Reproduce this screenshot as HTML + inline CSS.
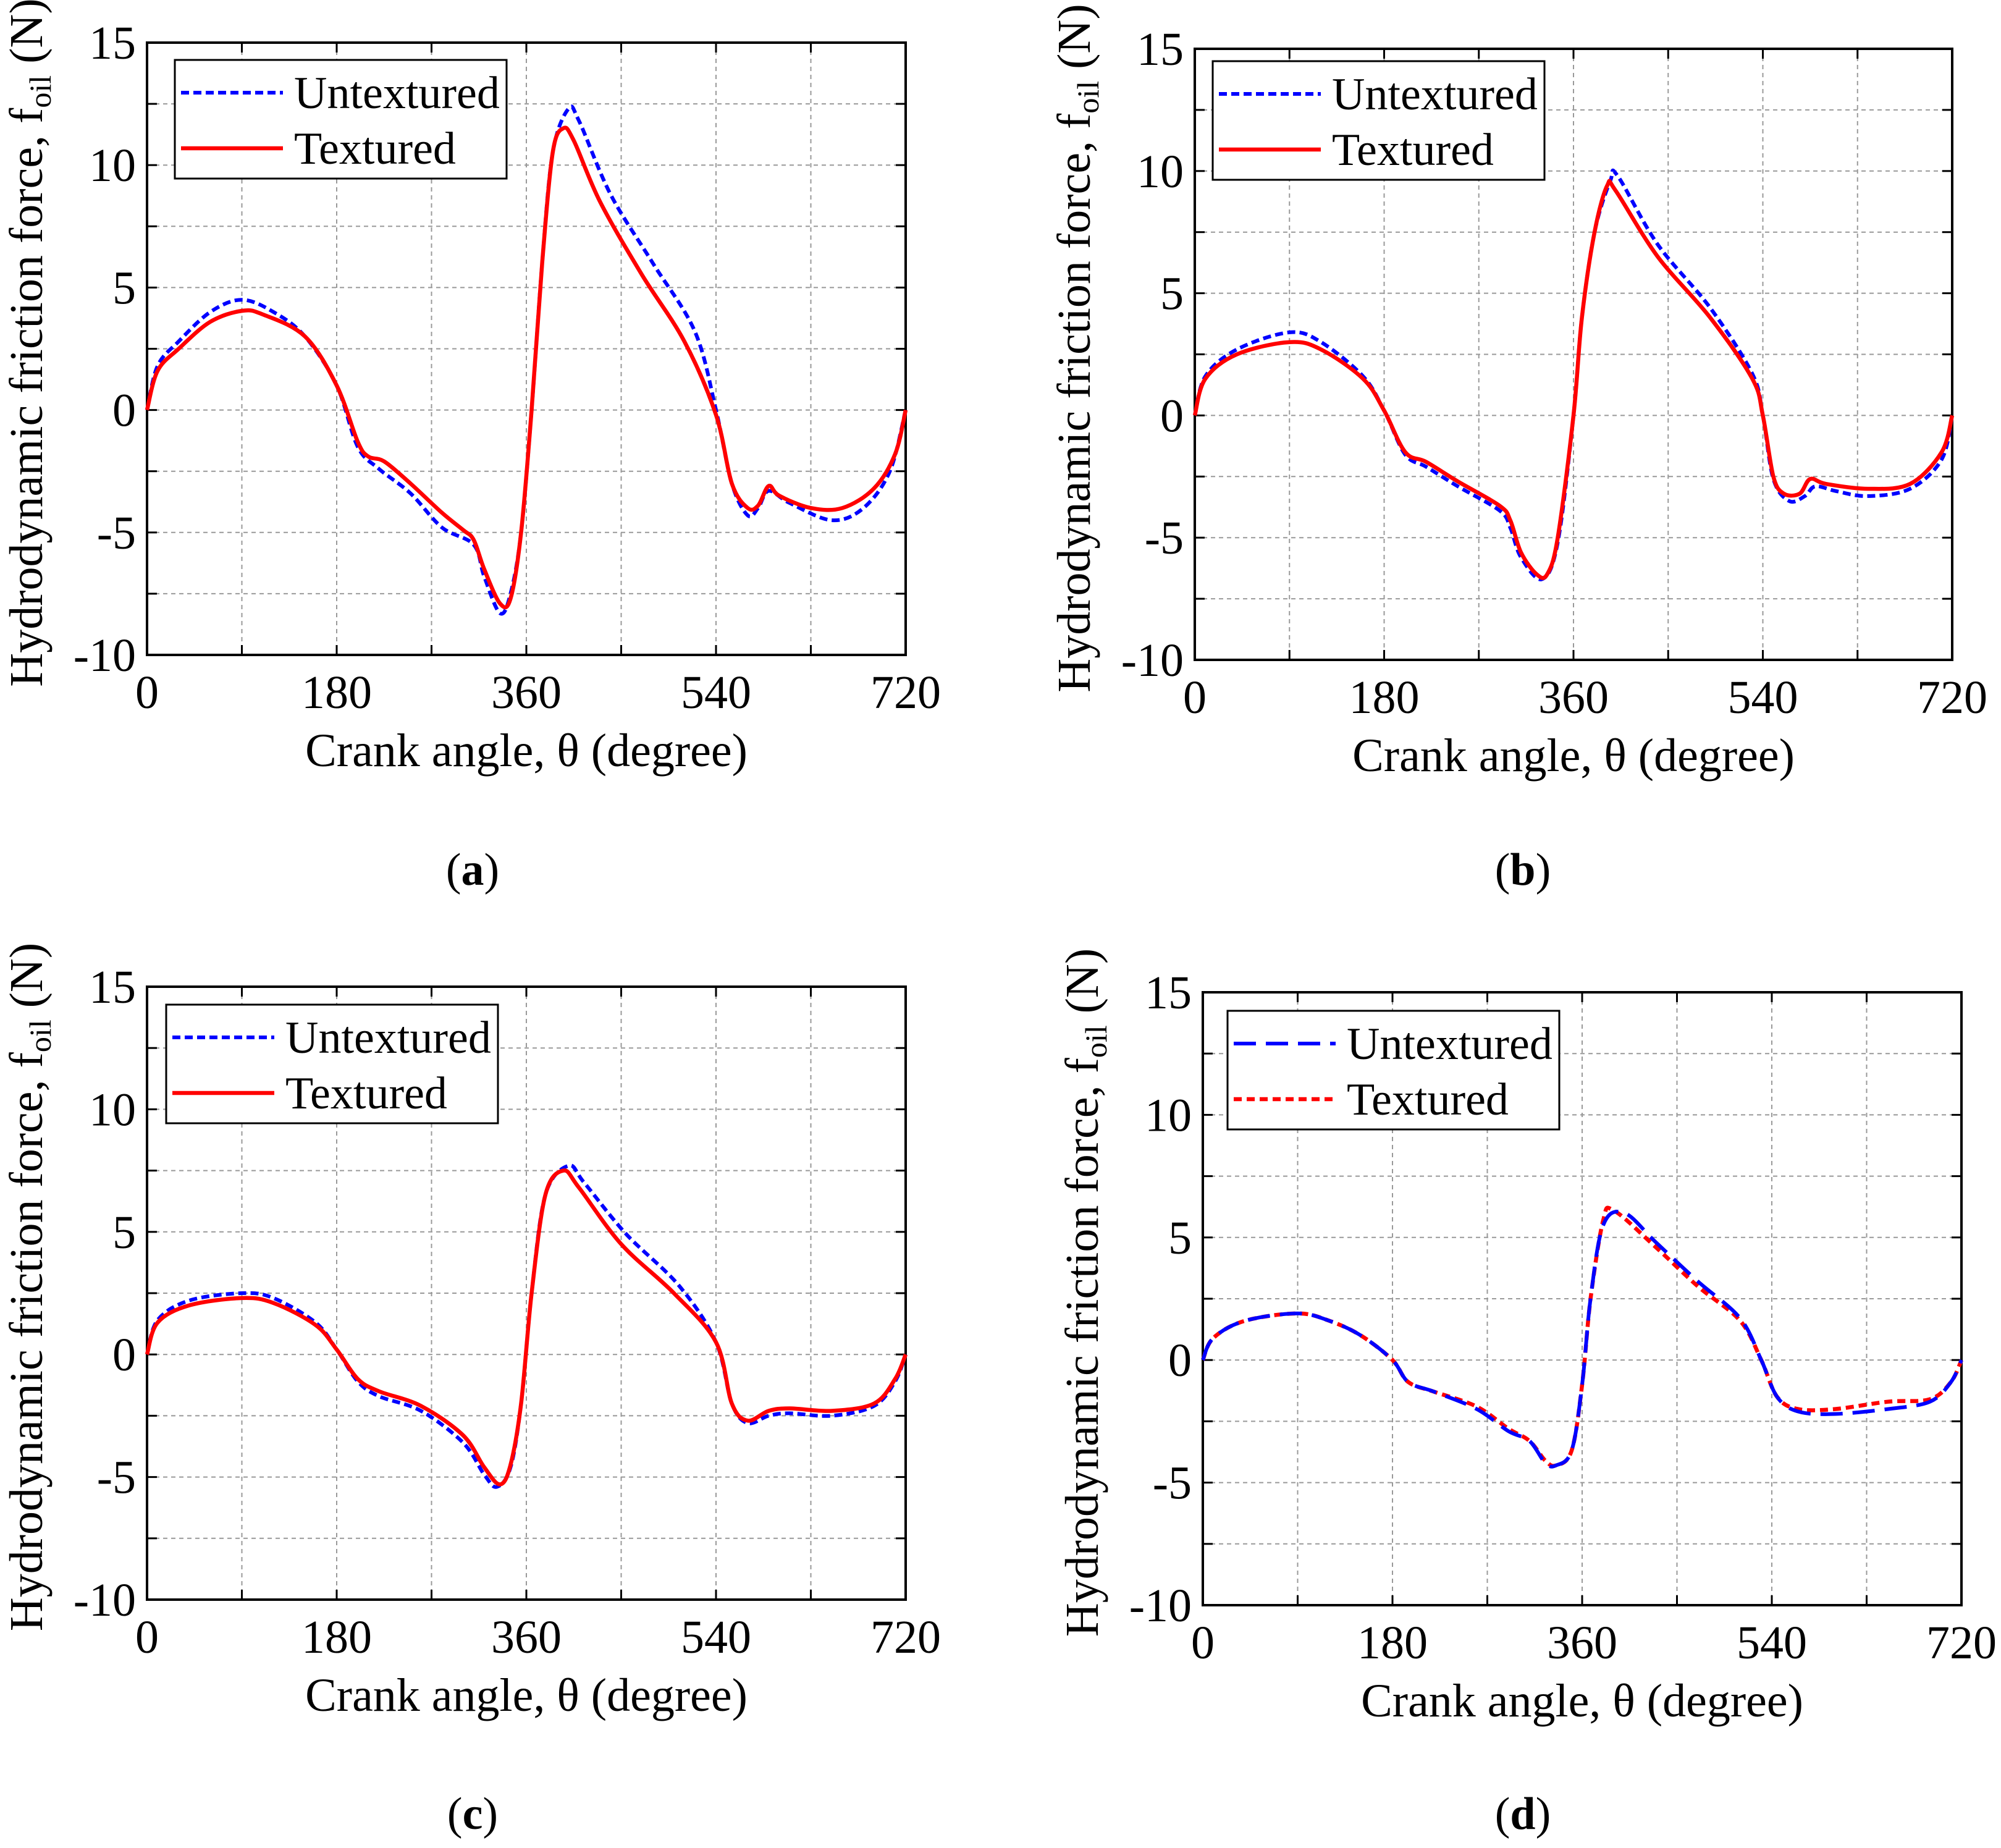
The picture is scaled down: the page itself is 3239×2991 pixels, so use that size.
<!DOCTYPE html>
<html><head><meta charset="utf-8"><style>
html,body{margin:0;padding:0;background:#fff;}
svg{display:block;font-family:"Liberation Serif",serif;}
</style></head><body>
<svg id="fig" width="3239" height="2991" viewBox="0 0 3239 2991" xmlns="http://www.w3.org/2000/svg"></svg>
<script>
// ---- data (crank angle degree, friction force N) ----
const aTexX=[0,10,30,60,90,110,150,180,200,210,225,250,280,300,310,320,335,345,355,365,375,385,395,405,430,470,510,540,555,570,580,590,600,630,660,690,710,720];
const aTexY=[0,1.6,2.5,3.6,4.05,3.9,3.0,1.0,-1.3,-1.9,-2.1,-3.0,-4.2,-4.9,-5.3,-6.5,-7.9,-7.7,-5,0,6,10.5,11.5,11.0,8.5,5.5,2.8,-0.2,-3.0,-4.0,-3.9,-3.1,-3.5,-4.0,-4.0,-3.2,-1.8,0];
const aUntX=[0,10,30,60,90,120,150,180,200,220,250,280,310,320,335,345,355,365,375,385,400,410,440,480,520,540,555,570,580,590,610,650,680,705,720];
const aUntY=[0,1.8,2.8,4.0,4.5,4.0,3.0,1.0,-1.5,-2.4,-3.4,-4.8,-5.5,-6.8,-8.3,-7.5,-5,0,6,10.5,12.3,11.8,8.8,6.0,3.2,0,-3.0,-4.3,-4.0,-3.3,-3.8,-4.5,-4.0,-2.5,0];
const bTexX=[0,10,40,90,120,160,180,200,220,250,290,300,310,325,335,345,360,368,380,392,400,440,490,530,540,550,560,575,585,600,640,680,710,720];
const bTexY=[0,1.5,2.5,3.0,2.7,1.5,0.2,-1.5,-1.9,-2.7,-3.7,-4.3,-5.6,-6.5,-6.5,-5,0,4,7.5,9.4,9.2,6.5,4,1.5,0,-2.5,-3.2,-3.2,-2.6,-2.8,-3.0,-2.8,-1.5,0];
const bUntX=[0,10,40,90,120,160,180,200,220,250,290,300,310,330,345,360,368,380,395,402,440,490,530,540,550,565,580,590,610,640,680,710,720];
const bUntY=[0,1.6,2.7,3.4,3.0,1.6,0.2,-1.6,-2.1,-2.9,-3.9,-4.6,-5.8,-6.7,-5.2,0,4,7.5,9.6,9.8,7.0,4.4,1.7,0,-2.6,-3.5,-3.3,-2.9,-3.1,-3.3,-3.0,-1.8,0];
const cTexX=[0,10,40,90,120,160,180,200,220,260,300,320,335,345,355,365,378,395,410,450,500,540,555,570,590,610,650,690,710,720];
const cTexY=[0,1.3,2.0,2.3,2.1,1.2,0.2,-1.0,-1.5,-2.1,-3.3,-4.6,-5.3,-4.5,-2,2.5,6.5,7.5,6.8,4.5,2.5,0.5,-2,-2.7,-2.3,-2.2,-2.3,-2.0,-1,0];
const cUntX=[0,10,40,90,120,160,180,200,220,260,300,320,332,345,355,365,378,400,415,455,505,540,555,570,590,610,650,690,710,720];
const cUntY=[0,1.4,2.2,2.5,2.3,1.3,0.2,-1.1,-1.7,-2.3,-3.6,-4.9,-5.4,-4.6,-2,2.5,6.5,7.7,7.0,4.9,2.8,0.5,-2,-2.8,-2.5,-2.4,-2.5,-2.1,-1.1,0];
const dUntX=[0,10,40,90,120,150,180,195,220,260,290,310,325,335,350,360,368,380,400,430,470,510,530,545,565,600,650,690,710,720];
const dUntY=[0,0.9,1.6,1.9,1.6,1.0,0,-0.9,-1.3,-2.0,-2.9,-3.3,-4.2,-4.3,-3.7,-1,2.5,5.5,6.0,4.8,3.2,1.7,0,-1.5,-2.1,-2.2,-2.0,-1.7,-0.9,0];
const dTexX=[0,10,40,90,120,150,180,195,220,260,290,310,325,335,350,360,368,380,390,430,470,510,530,545,565,600,650,690,710,720];
const dTexY=[0,0.9,1.6,1.9,1.6,1.0,0,-0.9,-1.3,-1.9,-2.8,-3.3,-4.1,-4.3,-3.7,-1,2.5,5.7,6.1,4.6,3.0,1.6,0,-1.5,-2.0,-2.0,-1.7,-1.6,-0.9,0];
const xTicks=[0,180,360,540,720];
const yTicks=[-10,-5,0,5,10,15];
const xGrid=[90,180,270,360,450,540,630];
const yGrid=[-7.5,-5,-2.5,0,2.5,5,7.5,10,12.5];

const NS="http://www.w3.org/2000/svg";
const svg=document.getElementById('fig');
function mk(tag,attrs,parent){const e=document.createElementNS(NS,tag);for(const k in attrs)e.setAttribute(k,attrs[k]);(parent||svg).appendChild(e);return e;}

const panels=[
 {id:'a',x0:238,x1:1466,y0:69,y1:1060,leg:[283,97,537,192],cap:[765,1432],u:[aUntX,aUntY],t:[aTexX,aTexY],uDash:'13,7',tDash:'none'},
 {id:'b',x0:1934,x1:3160,y0:79,y1:1068,leg:[1963,99,537,192],cap:[2465,1432],u:[bUntX,bUntY],t:[bTexX,bTexY],uDash:'13,7',tDash:'none'},
 {id:'c',x0:238,x1:1466,y0:1597,y1:2589,leg:[269,1626,537,192],cap:[765,2960],u:[cUntX,cUntY],t:[cTexX,cTexY],uDash:'13,7',tDash:'none'},
 {id:'d',x0:1947,x1:3175,y0:1606,y1:2598,leg:[1987,1636,537,192],cap:[2465,2960],u:[dUntX,dUntY],t:[dTexX,dTexY],uDash:'36,16',tDash:'13,8'}
];

function smoothPath(xs,ys,sx,sy){
  const p=xs.map((x,i)=>[sx(x),sy(ys[i])]);
  let d='M'+p[0][0].toFixed(1)+','+p[0][1].toFixed(1);
  for(let i=0;i<p.length-1;i++){
    const p0=p[Math.max(0,i-1)],p1=p[i],p2=p[i+1],p3=p[Math.min(p.length-1,i+2)];
    const c1=[p1[0]+(p2[0]-p0[0])/6,p1[1]+(p2[1]-p0[1])/6];
    const c2=[p2[0]-(p3[0]-p1[0])/6,p2[1]-(p3[1]-p1[1])/6];
    d+=' C'+c1[0].toFixed(1)+','+c1[1].toFixed(1)+' '+c2[0].toFixed(1)+','+c2[1].toFixed(1)+' '+p2[0].toFixed(1)+','+p2[1].toFixed(1);
  }
  return d;
}

panels.forEach(P=>{
  const g=mk('g',{});
  
  
  const sx=v=>P.x0+(v/720)*(P.x1-P.x0);
  const sy=v=>P.y1-((v+10)/25)*(P.y1-P.y0);
  xGrid.forEach(v=>{const l=mk('line',{x1:sx(v),x2:sx(v),y1:P.y0,y2:P.y1,stroke:'#999','stroke-width':2,'stroke-dasharray':'7,6'},g);
    
    mk('line',{x1:sx(v),x2:sx(v),y1:P.y1,y2:P.y1-16,stroke:'#000','stroke-width':3},g);
    mk('line',{x1:sx(v),x2:sx(v),y1:P.y0,y2:P.y0+16,stroke:'#000','stroke-width':3},g);});
  yGrid.forEach(v=>{const l=mk('line',{x1:P.x0,x2:P.x1,y1:sy(v),y2:sy(v),stroke:'#999','stroke-width':2,'stroke-dasharray':'7,6'},g);
    
    mk('line',{x1:P.x0,x2:P.x0+16,y1:sy(v),y2:sy(v),stroke:'#000','stroke-width':3},g);
    mk('line',{x1:P.x1,x2:P.x1-16,y1:sy(v),y2:sy(v),stroke:'#000','stroke-width':3},g);});
  const fr=mk('rect',{x:P.x0,y:P.y0,width:P.x1-P.x0,height:P.y1-P.y0,fill:'none',stroke:'#000','stroke-width':4},g);
  
  xTicks.forEach(v=>{const t=mk('text',{x:sx(v),y:P.y1+86,'font-size':76,'text-anchor':'middle'},g);t.textContent=v;
    });
  yTicks.forEach(v=>{const t=mk('text',{x:P.x0-18,y:sy(v)+26,'font-size':76,'text-anchor':'end'},g);t.textContent=v;
    });
  const xt=mk('text',{x:(P.x0+P.x1)/2,y:P.y1+180,'font-size':76,'text-anchor':'middle'},g);
  xt.textContent='Crank angle, θ (degree)';
  
  const yc=(P.y0+P.y1)/2-10, yx=P.x0-170;
  const yt=mk('text',{x:yx,y:yc,'font-size':76,'text-anchor':'middle',transform:'rotate(-90 '+yx+' '+yc+')'},g);
  
  yt.innerHTML='Hydrodynamic friction force, f<tspan font-size="50" dy="14">oil</tspan><tspan dy="-14"> (N)</tspan>';
  const pu=mk('path',{d:smoothPath(P.u[0],P.u[1],sx,sy),fill:'none',stroke:'#0000ff','stroke-width':6,'stroke-dasharray':P.uDash},g);
  
  const pt=mk('path',{d:smoothPath(P.t[0],P.t[1],sx,sy),fill:'none',stroke:'#ff0000','stroke-width':6.5,'stroke-dasharray':P.tDash},g);
  
  if(P.id==='d'){g.appendChild(pu);}
  const [lx,ly,lw,lh]=P.leg;
  const lg=mk('g',{},g);
  
  mk('rect',{x:lx,y:ly,width:lw,height:lh,fill:'#fff',stroke:'#000','stroke-width':3},lg);
  const e1=mk('g',{},lg);
  mk('line',{x1:lx+10,x2:lx+175,y1:ly+53,y2:ly+53,stroke:'#0000ff','stroke-width':6,'stroke-dasharray':P.uDash},e1);
  const t1=mk('text',{x:lx+193,y:ly+78,'font-size':74},e1);t1.textContent='Untextured';
  const e2=mk('g',{},lg);
  mk('line',{x1:lx+10,x2:lx+175,y1:ly+143,y2:ly+143,stroke:'#ff0000','stroke-width':6.5,'stroke-dasharray':P.tDash},e2);
  const t2=mk('text',{x:lx+193,y:ly+168,'font-size':74},e2);t2.textContent='Textured';
  const cp=mk('text',{x:P.cap[0],y:P.cap[1],'font-size':74,'text-anchor':'middle'},g);
  cp.innerHTML='(<tspan font-weight="bold">'+P.id+'</tspan>)';
  
});
</script>
</body></html>
